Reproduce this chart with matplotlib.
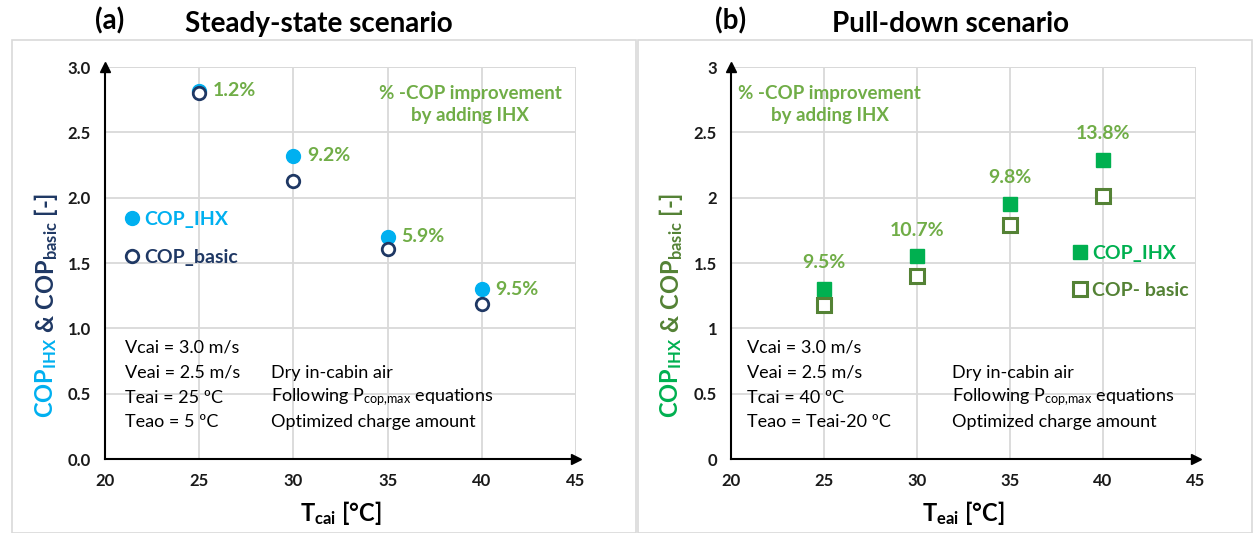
import matplotlib.pyplot as plt
from matplotlib.patches import Rectangle

plt.rcParams['font.family'] = ['Lato', 'DejaVu Sans']
plt.rcParams['mathtext.fontset'] = 'custom'
plt.rcParams['mathtext.rm'] = 'Lato'
plt.rcParams['mathtext.bf'] = 'Lato:bold'
plt.rcParams['mathtext.it'] = 'Lato:italic'
plt.rcParams['mathtext.default'] = 'rm'

# steady-state scenario
t_cai = [25, 30, 35, 40]
cop_ihx_ss = [2.82, 2.32, 1.70, 1.30]
cop_basic_ss = [2.80, 2.13, 1.61, 1.19]
gain_ss = ['1.2%', '9.2%', '5.9%', '9.5%']

# pull-down scenario
t_eai = [25, 30, 35, 40]
cop_ihx_pd = [1.30, 1.55, 1.95, 2.29]
cop_basic_pd = [1.18, 1.40, 1.79, 2.01]
gain_pd = ['9.5%', '10.7%', '9.8%', '13.8%']

ticks_y = [0, 0.5, 1.0, 1.5, 2.0, 2.5, 3.0]
ticks_x = [20, 25, 30, 35, 40, 45]

blue = '#00B0F0'
navy = '#1F3864'
green = '#00B050'
dkgreen = '#548235'
pct = '#70AD47'

fig = plt.figure(figsize=(12.53, 5.33), dpi=100)
W, H = 1253, 533

# panel frames
fig.patches.append(Rectangle((12 / W, 0), 624 / W, 493 / H, transform=fig.transFigure,
                             fill=False, ec='#d9d9d9', lw=1.2))
fig.patches.append(Rectangle((638 / W, 0), 614 / W, 493 / H, transform=fig.transFigure,
                             fill=False, ec='#d9d9d9', lw=1.2))

ax1 = fig.add_axes([105 / W, 1 - 459 / H, 471 / W, 392 / H])
ax2 = fig.add_axes([731 / W, 1 - 459 / H, 465 / W, 392 / H])


def style_axes(ax, ylabels):
    ax.set_xlim(20, 45)
    ax.set_ylim(0, 3)
    ax.set_xticks(ticks_x)
    ax.set_yticks(ticks_y)
    ax.set_yticklabels(ylabels)
    ax.grid(True, color='#d9d9d9', lw=1.3)
    ax.set_axisbelow(True)
    for s in ['top', 'right']:
        ax.spines[s].set_visible(False)
    for s in ['left', 'bottom']:
        ax.spines[s].set_linewidth(1.5)
    # gray border at far edges
    ax.axvline(45, color='#d9d9d9', lw=1.3, zorder=0)
    ax.axhline(3, color='#d9d9d9', lw=1.3, zorder=0)
    ax.plot(1, 0, '>k', ms=7, transform=ax.transAxes, clip_on=False)
    ax.plot(0, 1, '^k', ms=7, transform=ax.transAxes, clip_on=False)
    ax.tick_params(length=0, labelsize=12, pad=10, colors='#1a1a1a')
    for lab in ax.get_xticklabels() + ax.get_yticklabels():
        lab.set_fontweight('bold')


style_axes(ax1, ['0.0', '0.5', '1.0', '1.5', '2.0', '2.5', '3.0'])
style_axes(ax2, ['0', '0.5', '1', '1.5', '2', '2.5', '3'])

# (a) steady-state
h1 = ax1.plot(t_cai, cop_ihx_ss, 'o', color=blue, ms=10, zorder=3, label='COP_IHX')[0]
h2 = ax1.plot(t_cai, cop_basic_ss, 'o', mfc='white', mec=navy, mew=2, ms=9,
              zorder=4, label='COP_basic')[0]
for x, y, s in zip(t_cai, cop_ihx_ss, gain_ss):
    ax1.annotate(s, (x, y), xytext=(10, 0), textcoords='offset points',
                 ha='left', va='center', color=pct, fontsize=14, fontweight='bold')
ax1.text(39.4, 2.715, '% -COP improvement\nby adding IHX', color=pct, fontsize=13.5,
         fontweight='bold', ha='center', va='center', linespacing=1.35)
ax1.legend(handles=[h1, h2], loc='center left', bbox_to_anchor=(0.045, 0.563),
           frameon=False, handlelength=0.6, handletextpad=0.35, labelspacing=1.1,
           borderpad=0, borderaxespad=0, labelcolor=[blue, navy],
           prop={'size': 14, 'weight': 'bold'})

for txt, y in zip(['Vcai = 3.0 m/s', 'Veai = 2.5 m/s', 'Teai = 25 ºC', 'Teao = 5 ºC'],
                  [0.85, 0.66, 0.47, 0.28]):
    ax1.text(21.05, y, txt, fontsize=13, va='center', ha='left')
for txt, y in zip(['Dry in-cabin air', 'Following P$_{cop{,}max}$ equations',
                   'Optimized charge amount'], [0.66, 0.47, 0.28]):
    ax1.text(28.8, y, txt, fontsize=13, va='center', ha='left')

# (b) pull-down
h3 = ax2.plot(t_eai, cop_ihx_pd, 's', color=green, ms=10, zorder=3, label='COP_IHX')[0]
h4 = ax2.plot(t_eai, cop_basic_pd, 's', mfc='white', mec=dkgreen, mew=2.2, ms=9.5,
              zorder=4, label='COP- basic')[0]
for x, y, s in zip(t_eai, cop_ihx_pd, gain_pd):
    ax2.annotate(s, (x, y), xytext=(0, 19), textcoords='offset points',
                 ha='center', va='center', color=pct, fontsize=14, fontweight='bold')
ax2.text(25.3, 2.715, '% -COP improvement\nby adding IHX', color=pct, fontsize=13.5,
         fontweight='bold', ha='center', va='center', linespacing=1.35)
ax2.legend(handles=[h3, h4], loc='center left', bbox_to_anchor=(0.737, 0.477),
           frameon=False, handlelength=0.6, handletextpad=0.35, labelspacing=1.0,
           borderpad=0, borderaxespad=0, labelcolor=[green, dkgreen],
           prop={'size': 14, 'weight': 'bold'})

for txt, y in zip(['Vcai = 3.0 m/s', 'Veai = 2.5 m/s', 'Tcai = 40 ºC', 'Teao = Teai-20 ºC'],
                  [0.85, 0.66, 0.47, 0.28]):
    ax2.text(20.85, y, txt, fontsize=13, va='center', ha='left')
for txt, y in zip(['Dry in-cabin air', 'Following P$_{cop{,}max}$ equations',
                   'Optimized charge amount'], [0.66, 0.47, 0.28]):
    ax2.text(31.9, y, txt, fontsize=13, va='center', ha='left')

ax1.set_xlabel(r'T$\mathbf{_{cai}}$ [°C]', fontsize=17, fontweight='bold', labelpad=7)
ax2.set_xlabel(r'T$\mathbf{_{eai}}$ [°C]', fontsize=17, fontweight='bold', labelpad=7)

# titles
fig.text(110 / W, 1 - 21 / H, '(a)', fontsize=20, fontweight='bold', ha='center', va='center')
fig.text(319 / W, 1 - 24 / H, 'Steady-state scenario', fontsize=20, fontweight='bold',
         ha='center', va='center')
fig.text(731 / W, 1 - 21 / H, '(b)', fontsize=20, fontweight='bold', ha='center', va='center')
fig.text(950 / W, 1 - 24 / H, 'Pull-down scenario', fontsize=20, fontweight='bold',
         ha='center', va='center')


def stacked_ylabel(x_px, y0_px, pieces):
    # rotated label built from coloured pieces, stacked bottom to top
    fig.canvas.draw()
    r = fig.canvas.get_renderer()
    y = y0_px
    for s, c in pieces:
        t = fig.text(x_px / W, 1 - y / H, s, rotation=90, color=c, fontsize=17,
                     fontweight='bold', ha='center', va='bottom')
        bb = t.get_window_extent(r)
        y -= bb.height


stacked_ylabel(46, 418, [(r'COP$\mathbf{_{IHX}}$', blue),
                         (r' & COP$\mathbf{_{basic}}$ [-]', navy)])
stacked_ylabel(671, 418, [(r'COP$\mathbf{_{IHX}}$', green),
                          (r' & COP$\mathbf{_{basic}}$ [-]', dkgreen)])

fig.savefig('out.png', dpi=100)
